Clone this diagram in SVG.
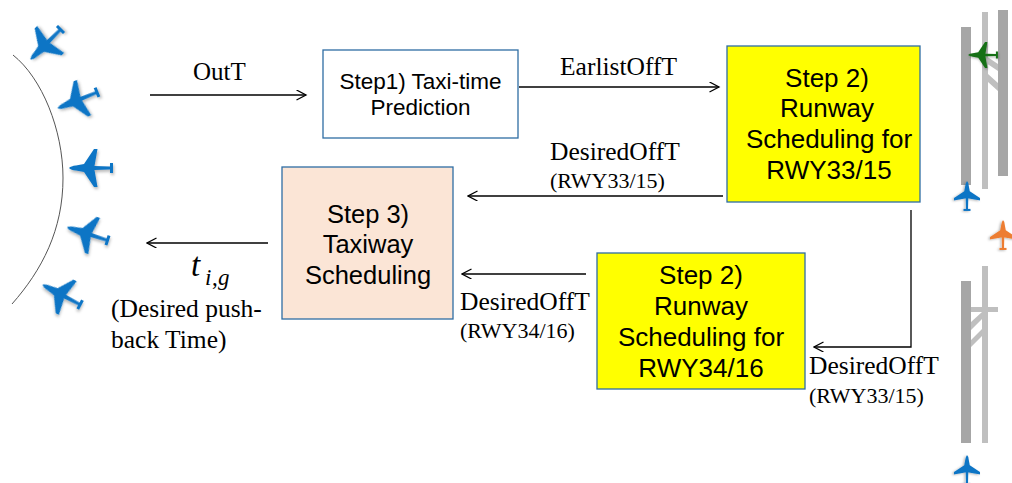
<svg xmlns="http://www.w3.org/2000/svg" width="1012" height="483" viewBox="0 0 1012 483">
<style>
.s{font-family:"Liberation Sans",Arial,sans-serif;fill:#000;text-anchor:middle}
.r{font-family:"Liberation Serif","Times New Roman",serif;fill:#000}
.c{fill:none;stroke:#000;stroke-width:1.3}
.d{fill:#a6a6a6}.l{fill:#bfbfbf}
</style>
<defs>
<marker id="a" markerWidth="12" markerHeight="12" refX="10.5" refY="5" orient="auto" markerUnits="userSpaceOnUse"><path d="M1 0L10.500 5L1 10" fill="none" stroke="#000" stroke-width="1.300"/></marker>
<filter id="sh" x="-30%" y="-30%" width="170%" height="170%"><feDropShadow dx="1" dy="2" stdDeviation="1.500" flood-color="#000" flood-opacity=".3"/></filter>
<g id="pl"><path d="M-22 0Q-20 -2 -15 -2.500L-7 -4L3 -19L6.500 -19L3.500 -2L19 -1.500L19 -5L22 -5L22 5L19 5L19 1.500L3.500 2L6.500 19L3 19L-7 4L-15 2.500Q-20 2 -22 0Z" filter="url(#sh)"/></g>
</defs>
<g id="gate-curve"><path d="M13 55C42 78 63 130 63 178C63 230 42 270 12 304" fill="none" stroke="#555" stroke-width="1"/></g>
<g id="gate-planes" fill="#0f75c5">
<use href="#pl" transform="translate(46 44) rotate(-45)"/>
<use href="#pl" transform="translate(78 100) rotate(-22)"/>
<use href="#pl" transform="translate(91 168)"/>
<use href="#pl" transform="translate(88 234) rotate(18)"/>
<use href="#pl" transform="translate(62 295) rotate(28)"/>
</g>
<g id="runway-top">
<rect class="d" x="961" y="27" width="10" height="158"/>
<rect class="l" x="982" y="12" width="6" height="177"/>
<rect class="d" x="998" y="10" width="10" height="166"/>
<path class="l" d="M986 56L998 64V71L986 63ZM988 74L998 83V91L988 82Z"/>
<use href="#pl" fill="#167016" transform="translate(983 55) scale(.68)"/>
<use href="#pl" fill="#0f75c5" transform="translate(967 196) rotate(90) scale(.68)"/>
<use href="#pl" fill="#ed7d31" transform="translate(1003 235) rotate(90) scale(.68)"/>
</g>
<g id="runway-bottom">
<rect class="d" x="961" y="281" width="10" height="162"/>
<rect class="l" x="982" y="266" width="6" height="177"/>
<rect class="l" x="971" y="307" width="27" height="5"/>
<path class="l" d="M971 322L982 312V319L971 330ZM971 340L982 329V336L971 347Z"/>
<use href="#pl" fill="#0f75c5" transform="translate(967 470) rotate(90) scale(.68)"/>
</g>
<g id="connectors">
<path class="c" marker-end="url(#a)" d="M150 95H306"/>
<path class="c" marker-end="url(#a)" d="M519 87H719"/>
<path class="c" marker-end="url(#a)" d="M723 196H468"/>
<path class="c" marker-end="url(#a)" d="M268 243H147"/>
<path class="c" marker-end="url(#a)" d="M586 274H462"/>
<path class="c" marker-end="url(#a)" d="M911 210V347H814"/>
</g>
<g id="step1"><rect x="323" y="50" width="195" height="88" fill="#fff" stroke="#2e6da4" stroke-width="1.300"/>
<text class="s" font-size="22.500" x="420.500" y="89">Step1) Taxi-time</text><text class="s" font-size="22.500" x="420.500" y="115">Prediction</text></g>
<g id="step2a"><rect x="727" y="46" width="193" height="156" fill="#ffff00" stroke="#2e6da4" stroke-width="1.300"/>
<text class="s" font-size="26" x="827" y="87">Step 2)</text><text class="s" font-size="26" x="827" y="117">Runway</text><text class="s" font-size="26" x="829" y="148">Scheduling for</text><text class="s" font-size="26" x="829" y="179">RWY33/15</text></g>
<g id="step3"><rect x="282" y="167" width="171" height="152" fill="#fbe5d6" stroke="#2e6da4" stroke-width="1.300"/>
<text class="s" font-size="25.500" x="368" y="223">Step 3)</text><text class="s" font-size="25.500" x="368" y="253">Taxiway</text><text class="s" font-size="25.500" x="368" y="284">Scheduling</text></g>
<g id="step2b"><rect x="597" y="253" width="208" height="136" fill="#ffff00" stroke="#2e6da4" stroke-width="1.300"/>
<text class="s" font-size="26" x="701" y="284">Step 2)</text><text class="s" font-size="26" x="701" y="315">Runway</text><text class="s" font-size="26" x="701" y="346">Scheduling for</text><text class="s" font-size="26" x="701" y="377">RWY34/16</text></g>
<g id="labels">
<text class="r" font-size="25" x="193" y="80">OutT</text>
<text class="r" font-size="25.500" x="560" y="75">EarlistOffT</text>
<text class="r" font-size="25.500" x="550" y="160">DesiredOffT</text>
<text class="r" font-size="22" x="550" y="188">(RWY33/15)</text>
<text class="r" font-size="25.500" x="460" y="310">DesiredOffT</text>
<text class="r" font-size="22" x="460" y="338">(RWY34/16)</text>
<text class="r" font-size="25.500" x="809" y="374">DesiredOffT</text>
<text class="r" font-size="22" x="809" y="403">(RWY33/15)</text>
<text class="r" font-size="33" font-style="italic" x="191" y="276">t</text>
<text class="r" font-size="23" font-style="italic" x="205" y="285">i</text>
<text class="r" font-size="23" x="212" y="285">,</text>
<text class="r" font-size="23" font-style="italic" x="218" y="285">g</text>
<text class="r" font-size="25.500" x="111" y="317">(Desired push-</text>
<text class="r" font-size="25.500" x="111" y="348">back Time)</text>
</g>
</svg>
